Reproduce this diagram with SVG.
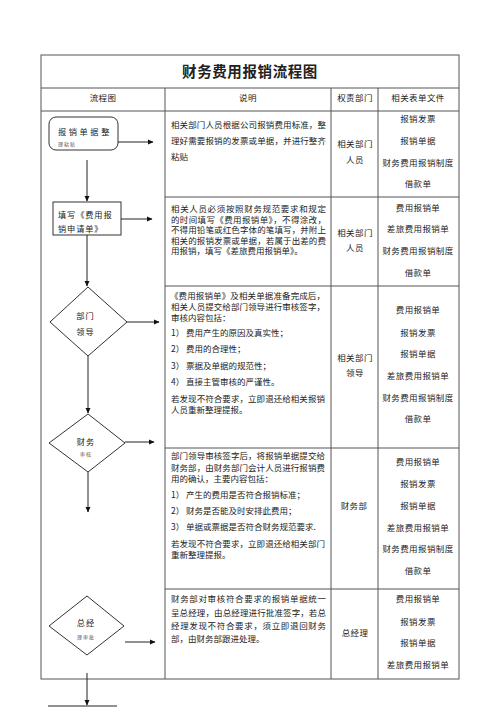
<svg xmlns="http://www.w3.org/2000/svg" width="500" height="707" viewBox="0 0 500 707">
<style>
.ln{stroke:#555;stroke-width:1;fill:none}
.nd{stroke:#333;stroke-width:1;fill:#fff}
.cn{stroke:#222;stroke-width:1;fill:none}
text{font-family:"Noto Sans CJK SC","Liberation Serif",serif;fill:#222;dominant-baseline:central}
.t{font-size:14.5px;font-weight:bold;text-anchor:middle;letter-spacing:0.6px}
.h{font-size:8.5px;text-anchor:middle;letter-spacing:0.4px}
.d{font-size:8.5px}
.c{font-size:8.5px;text-anchor:middle;letter-spacing:0.4px}
.n{font-size:8.2px;letter-spacing:1px}
.g{font-size:5px;fill:#555;letter-spacing:1px}
</style>
<defs>
<marker id="ah" markerWidth="6" markerHeight="6" refX="5" refY="3" orient="auto" markerUnits="userSpaceOnUse">
<path d="M0,0.5 L5.5,3 L0,5.5 z" fill="#111"/>
</marker>
</defs>
<rect width="500" height="707" fill="#fff"/>
<g id="table">
<rect class="ln" x="41" y="55" width="418" height="624"/>
<line class="ln" x1="41" y1="88" x2="459" y2="88"/>
<line class="ln" x1="41" y1="111" x2="459" y2="111"/>
<line class="ln" x1="165" y1="197" x2="459" y2="197"/>
<line class="ln" x1="165" y1="286" x2="459" y2="286"/>
<line class="ln" x1="165" y1="448" x2="459" y2="448"/>
<line class="ln" x1="165" y1="589" x2="459" y2="589"/>
<line class="ln" x1="165" y1="88" x2="165" y2="679"/>
<line class="ln" x1="331" y1="88" x2="331" y2="679"/>
<line class="ln" x1="378" y1="88" x2="378" y2="679"/>
<text class="t" x="250" y="70">财务费用报销流程图</text>
<text class="h" x="103" y="97">流程图</text>
<text class="h" x="248" y="97">说明</text>
<text class="h" x="355" y="97">权责部门</text>
<text class="h" x="418" y="97">相关表单文件</text>
</g>
<g id="desc">
<text class="d" x="171" y="124" textLength="155" lengthAdjust="spacing">相关部门人员根据公司报销费用标准，整</text>
<text class="d" x="171" y="140" textLength="155" lengthAdjust="spacing">理好需要报销的发票或单据，并进行整齐</text>
<text class="d" x="171" y="156">粘贴</text>
<text class="d" x="171" y="208" textLength="155" lengthAdjust="spacing">相关人员必须按照财务规范要求和规定</text>
<text class="d" x="171" y="218.5" textLength="155" lengthAdjust="spacing">的时间填写《费用报销单》，不得涂改，</text>
<text class="d" x="171" y="229" textLength="155" lengthAdjust="spacing">不得用铅笔或红色字体的笔填写，并附上</text>
<text class="d" x="171" y="239.5" textLength="155" lengthAdjust="spacing">相关的报销发票或单据，若属于出差的费</text>
<text class="d" x="171" y="250">用报销，填写《差旅费用报销单》。</text>
<text class="d" x="170" y="295" textLength="155" lengthAdjust="spacing">《费用报销单》及相关单据准备完成后，</text>
<text class="d" x="171" y="306" textLength="154" lengthAdjust="spacing">相关人员提交给部门领导进行审核签字，</text>
<text class="d" x="171" y="317">审核内容包括：</text>
<text class="d" x="171" y="332">1） 费用产生的原因及真实性；</text>
<text class="d" x="171" y="348">2） 费用的合理性；</text>
<text class="d" x="171" y="365">3） 票据及单据的规范性；</text>
<text class="d" x="171" y="381">4） 直接主管审核的严谨性。</text>
<text class="d" x="171" y="398" textLength="154" lengthAdjust="spacing">若发现不符合要求，立即退还给相关报销</text>
<text class="d" x="171" y="408.5">人员重新整理提报。</text>
<text class="d" x="171" y="455" textLength="154" lengthAdjust="spacing">部门领导审核签字后，将报销单据提交给</text>
<text class="d" x="171" y="467" textLength="154" lengthAdjust="spacing">财务部，由财务部门会计人员进行报销费</text>
<text class="d" x="171" y="478">用的确认，主要内容包括：</text>
<text class="d" x="171" y="494">1） 产生的费用是否符合报销标准；</text>
<text class="d" x="171" y="510">2） 财务是否能及时安排此费用；</text>
<text class="d" x="171" y="526">3） 单据或票据是否符合财务规范要求.</text>
<text class="d" x="171" y="543" textLength="154" lengthAdjust="spacing">若发现不符合要求，立即退还给相关部门</text>
<text class="d" x="171" y="553.5">重新整理提报。</text>
<text class="d" x="171" y="598" textLength="155" lengthAdjust="spacing">财务部对审核符合要求的报销单据统一</text>
<text class="d" x="171" y="612" textLength="155" lengthAdjust="spacing">呈总经理，由总经理进行批准签字，若总</text>
<text class="d" x="171" y="625" textLength="155" lengthAdjust="spacing">经理发现不符合要求，须立即退回财务</text>
<text class="d" x="171" y="638">部，由财务部跟进处理。</text>
</g>
<g id="dept">
<text class="c" x="355" y="143">相关部门</text>
<text class="c" x="355" y="159">人员</text>
<text class="c" x="355" y="232">相关部门</text>
<text class="c" x="355" y="247">人员</text>
<text class="c" x="355" y="357">相关部门</text>
<text class="c" x="355" y="372">领导</text>
<text class="c" x="354" y="505">财务部</text>
<text class="c" x="355" y="632">总经理</text>
</g>
<g id="files">
<text class="c" x="418" y="118">报销发票</text>
<text class="c" x="418" y="140">报销单据</text>
<text class="c" x="418" y="162">财务费用报销制度</text>
<text class="c" x="418" y="183">借款单</text>
<text class="c" x="418" y="207">费用报销单</text>
<text class="c" x="418" y="228">差旅费用报销单</text>
<text class="c" x="418" y="250">财务费用报销制度</text>
<text class="c" x="418" y="272">借款单</text>
<text class="c" x="418" y="309">费用报销单</text>
<text class="c" x="418" y="332">报销发票</text>
<text class="c" x="418" y="353">报销单据</text>
<text class="c" x="418" y="375">差旅费用报销单</text>
<text class="c" x="418" y="397">财务费用报销制度</text>
<text class="c" x="418" y="418">借款单</text>
<text class="c" x="418" y="461">费用报销单</text>
<text class="c" x="418" y="483">报销发票</text>
<text class="c" x="418" y="505">报销单据</text>
<text class="c" x="418" y="527">差旅费用报销单</text>
<text class="c" x="418" y="548">财务费用报销制度</text>
<text class="c" x="418" y="570">借款单</text>
<text class="c" x="418" y="598">费用报销单</text>
<text class="c" x="418" y="621">报销发票</text>
<text class="c" x="418" y="642">报销单据</text>
<text class="c" x="418" y="664">差旅费用报销单</text>
</g>
<g id="n1">
<rect class="nd" x="49" y="117" width="69" height="33" rx="7"/>
<text class="n" x="58" y="131" style="letter-spacing:2.6px">报销单据整</text>
<text class="g" x="58" y="143">理粘贴</text>
</g>
<g id="n2">
<rect class="nd" x="53" y="202" width="68" height="33"/>
<text class="n" x="58" y="214" style="letter-spacing:0.9px">填写《费用报</text>
<text class="n" x="58" y="228" style="letter-spacing:0.9px">销申请单》</text>
</g>
<g id="n3">
<polygon class="nd" points="88,287 127,322 88,356 50,322"/>
<text class="n" x="85.5" y="315" text-anchor="middle">部门</text>
<text class="n" x="85.5" y="331" text-anchor="middle">领导</text>
</g>
<g id="n4">
<polygon class="nd" points="88,414 125,443 88,472 49,443"/>
<text class="n" x="86" y="441" text-anchor="middle">财务</text>
<text class="g" x="86" y="453" text-anchor="middle">审核</text>
</g>
<g id="n5">
<polygon class="nd" points="87,596 124,626 87,655 49,626"/>
<text class="n" x="86" y="622" text-anchor="middle">总经</text>
<text class="g" x="86" y="636" text-anchor="middle">理审批</text>
</g>
<g id="connectors">
<line class="cn" x1="118" y1="142" x2="153" y2="142" marker-end="url(#ah)"/>
<line class="cn" x1="87" y1="160" x2="87" y2="201" marker-end="url(#ah)"/>
<line class="cn" x1="121" y1="219" x2="152" y2="219" marker-end="url(#ah)"/>
<line class="cn" x1="87" y1="235" x2="87" y2="286" marker-end="url(#ah)"/>
<line class="cn" x1="127" y1="322" x2="159" y2="322" marker-end="url(#ah)"/>
<line class="cn" x1="88" y1="356" x2="88" y2="413" marker-end="url(#ah)"/>
<line class="cn" x1="125" y1="442" x2="154" y2="442" marker-end="url(#ah)"/>
<line class="cn" x1="88" y1="472" x2="88" y2="512" marker-end="url(#ah)"/>
<line class="cn" x1="125" y1="642" x2="155" y2="642" marker-end="url(#ah)"/>
<line class="cn" x1="87" y1="673" x2="87" y2="705" marker-end="url(#ah)"/>
<line class="cn" x1="48" y1="706" x2="117" y2="706"/>
</g>
</svg>
